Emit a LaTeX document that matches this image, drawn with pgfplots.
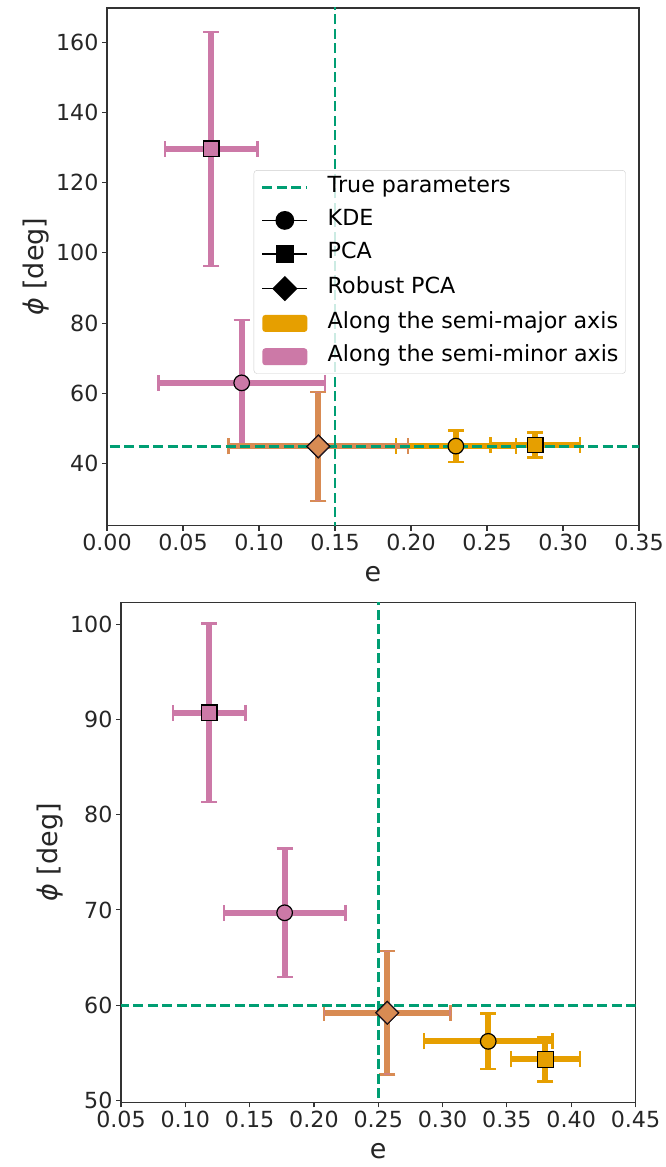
\documentclass[border=0pt]{standalone}
\usepackage{fontspec}
\setmainfont{DejaVu Sans}
\usepackage{pgfplots}
\pgfplotsset{compat=1.18}

\definecolor{cmaj}{HTML}{E69F00}
\definecolor{cmin}{HTML}{CC79A7}
\definecolor{ctrue}{HTML}{009E73}

\newcommand\tickfont{\fontsize{22.2}{26}\selectfont}
\newcommand\labfont{\fontsize{27}{32}\selectfont}

% estimates: x = e, y = phi, with their 1-sigma spreads
% first panel
\pgfplotstableread{
x      y      ex      ey
0.0886 63.0   0.0547  17.9
}\tKmin
\pgfplotstableread{
x      y      ex      ey
0.0686 129.6  0.0305  33.3
}\tPmin
\pgfplotstableread{
x      y      ex      ey
0.2295 45.0   0.0395  4.5
}\tKmaj
\pgfplotstableread{
x      y      ex      ey
0.2817 45.3   0.0295  3.6
}\tPmaj
\pgfplotstableread{
x      y      ex      ey
0.139  44.9   0.059   15.5
}\tR
% second panel
\pgfplotstableread{
x      y      ex      ey
0.1772 69.7   0.0472  6.75
}\bKmin
\pgfplotstableread{
x      y      ex      ey
0.1185 90.7   0.0282  9.35
}\bPmin
\pgfplotstableread{
x      y      ex      ey
0.3355 56.2   0.050   2.9
}\bKmaj
\pgfplotstableread{
x      y      ex      ey
0.380  54.3   0.0267  2.3
}\bPmaj
\pgfplotstableread{
x      y      ex      ey
0.257  59.2   0.0492  6.5
}\bR

\pgfplotsset{
  % error bars in both directions; the cap mark is turned to sit across each bar
  ebar/.style 2 args={draw=none, mark=none, forget plot,
    error bars/.cd, x dir=both, x explicit, y dir=both, y explicit, error mark=|,
    error bar style={draw=#1, solid, line width=6pt, opacity=#2},
    error mark options={draw=#1, solid, line width=2.5pt, mark size=8pt, opacity=#2},
    /pgfplots/.cd},
  dot/.style 2 args={only marks, forget plot, mark=#1,
    mark options={fill=#2, draw=black, line width=1.2pt}, mark size=7.8pt},
  dia/.style 2 args={only marks, forget plot, mark=square*,
    mark options={fill=#1, draw=black, rotate=45, line width=1.2pt, opacity=#2}, mark size=8pt},
  truth/.style={ctrue, line width=2.8pt, dash pattern=on 10pt off 4.5pt, forget plot},
  lineleg/.style={legend image code/.code={%
    \draw[mark repeat=2, mark phase=2, fill opacity=1, draw opacity=1]
      plot coordinates {(0pt,0pt) (22.5pt,0pt) (45pt,0pt)};}},
  arealeg/.style={legend image code/.code={%
    \fill[fill opacity=1] (0pt,-8.5pt) rectangle (45pt,8.5pt);}},
  base/.style={
    scale only axis,
    anchor=north west,
    axis line style={black!80, line width=1.1pt},
    every tick/.style={black!80, line width=1.1pt},
    major tick length=5pt,
    tick align=outside,
    xtick pos=left, ytick pos=left,
    /pgf/number format/assume math mode=true,
    tick label style={font=\tickfont, text=black!85},
    label style={font=\labfont, text=black!85},
    xlabel={e},
    xlabel style={yshift=-9pt},
    ylabel={{\itshape ϕ} [deg]},
    xticklabel style={/pgf/number format/.cd, fixed, fixed zerofill, precision=2},
    yticklabel style={/pgf/number format/.cd, fixed, precision=0},
  },
}

% error bars of one estimate, along e and along phi
\newcommand\ebars[3]{%
  \addplot [ebar={#2}{#3}] table [x=x, y=y, x error=ex, y error=ey] {#1};
}

\begin{document}
\begin{tikzpicture}
\useasboundingbox (0,0) rectangle (665pt,-1167pt);

\begin{axis}[base,
  at={(107pt,-8pt)}, width=532pt, height=517.5pt,
  xmin=0, xmax=0.35, ymin=22.4, ymax=169.7,
  xtick={0,0.05,...,0.35}, ytick={40,60,...,160},
  legend style={at={(0.975,0.49)}, anchor=east,
    draw=black!20, rounded corners=3pt, fill=white, fill opacity=0.8, text opacity=1,
    font=\tickfont, inner xsep=7pt, inner ysep=7pt,
    nodes={inner sep=0pt, text height=15pt, text depth=4.5pt},
    row sep=13.8pt,
    /tikz/every odd column/.append style={column sep=19pt}},
  legend cell align=left,
]
  \ebars{\tKmin}{cmin}{1}
  \ebars{\tPmin}{cmin}{1}
  \ebars{\tKmaj}{cmaj}{1}
  \ebars{\tPmaj}{cmaj}{1}
  \ebars{\tR}{cmaj}{1}
  \ebars{\tR}{cmin}{0.5}

  \addplot [truth] coordinates {(0.15,0) (0.15,300)};
  \addplot [truth] coordinates {(-1,45) (1,45)};

  \addplot [dot={*}{cmin}] table [x=x, y=y] {\tKmin};
  \addplot [dot={square*}{cmin}] table [x=x, y=y] {\tPmin};
  \addplot [dot={*}{cmaj}] table [x=x, y=y] {\tKmaj};
  \addplot [dot={square*}{cmaj}] table [x=x, y=y] {\tPmaj};
  \addplot [dia={cmaj}{1}] table [x=x, y=y] {\tR};
  \addplot [dia={cmin}{0.5}] table [x=x, y=y] {\tR};

  \addlegendimage{ctrue, line width=2.8pt, dash pattern=on 10pt off 4.5pt, lineleg}
  \addlegendentry{True parameters}
  \addlegendimage{black, line width=1.8pt, mark=*, mark size=8.5pt, lineleg}
  \addlegendentry{KDE}
  \addlegendimage{black, line width=1.8pt, mark=square*, mark size=8pt, lineleg}
  \addlegendentry{PCA}
  \addlegendimage{black, line width=1.8pt, mark=square*, mark size=8pt, mark options={rotate=45}, lineleg}
  \addlegendentry{Robust PCA}
  \addlegendimage{arealeg, fill=cmaj, draw=none}
  \addlegendentry{Along the semi-major axis}
  \addlegendimage{arealeg, fill=cmin, draw=none}
  \addlegendentry{Along the semi-minor axis}
\end{axis}

\begin{axis}[base,
  at={(121pt,-602.3pt)}, width=514.5pt, height=500pt,
  xmin=0.05, xmax=0.45, ymin=49.8, ymax=102.3,
  xtick={0.05,0.10,...,0.45}, ytick={50,60,...,100},
]
  \ebars{\bKmin}{cmin}{1}
  \ebars{\bPmin}{cmin}{1}
  \ebars{\bKmaj}{cmaj}{1}
  \ebars{\bPmaj}{cmaj}{1}
  \ebars{\bR}{cmaj}{1}
  \ebars{\bR}{cmin}{0.5}

  \addplot [truth] coordinates {(0.25,0) (0.25,300)};
  \addplot [truth] coordinates {(-1,60) (1,60)};

  \addplot [dot={*}{cmin}] table [x=x, y=y] {\bKmin};
  \addplot [dot={square*}{cmin}] table [x=x, y=y] {\bPmin};
  \addplot [dot={*}{cmaj}] table [x=x, y=y] {\bKmaj};
  \addplot [dot={square*}{cmaj}] table [x=x, y=y] {\bPmaj};
  \addplot [dia={cmaj}{1}] table [x=x, y=y] {\bR};
  \addplot [dia={cmin}{0.5}] table [x=x, y=y] {\bR};
\end{axis}
\end{tikzpicture}
\end{document}
